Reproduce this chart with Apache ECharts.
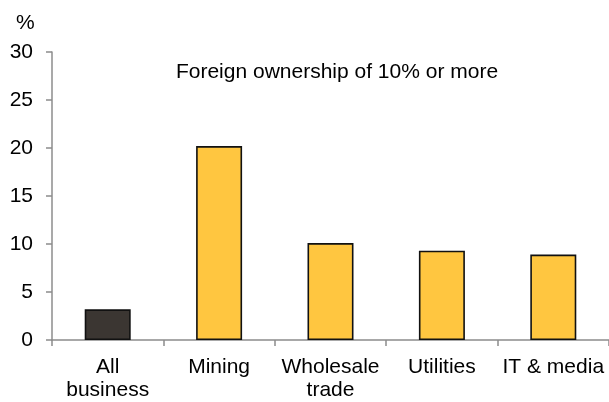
<!DOCTYPE html>
<html>
<head>
<meta charset="utf-8">
<script src="https://cdn.jsdelivr.net/npm/echarts@6/dist/echarts.min.js"></script>
<style>
  html, body { margin: 0; padding: 0; background: #fff; }
  #chart { width: 609px; height: 402px; }
</style>
</head>
<body>
<div id="chart"></div>
<script>
// Share of businesses with foreign ownership of 10% or more, by industry
const categories = ['All\nbusiness', 'Mining', 'Wholesale\ntrade', 'Utilities', 'IT & media'];
const shares = [3.2, 20.2, 10.1, 9.3, 8.9];
const barColors = ['#3b3632', '#ffc640', '#ffc640', '#ffc640', '#ffc640'];
const yTicks = [0, 5, 10, 15, 20, 25, 30];

const font = 'Liberation Sans, Arial, sans-serif';
const chart = echarts.init(document.getElementById('chart'), null, { renderer: 'canvas' });

chart.setOption({
  animation: false,
  backgroundColor: '#ffffff',
  grid: { left: 52, right: -3, top: 52, bottom: 57, containLabel: false },
  title: {
    text: 'Foreign ownership of 10% or more',
    left: 332, top: 57, textAlign: 'center',
    textStyle: { fontFamily: font, fontSize: 21, fontWeight: 'normal', color: '#000' }
  },
  graphic: [{
    type: 'text', left: 16, top: 13,
    style: { text: '%', font: '21px ' + font, fill: '#000' }
  }],
  xAxis: {
    type: 'category',
    data: categories,
    axisLine: { lineStyle: { color: '#8c8c8c', width: 1.5 } },
    axisTick: { show: true, alignWithLabel: false, length: 6, lineStyle: { color: '#8c8c8c', width: 1.5 } },
    axisLabel: { color: '#000', fontFamily: font, fontSize: 21, lineHeight: 23, margin: 16, interval: 0 }
  },
  yAxis: {
    type: 'value',
    min: yTicks[0], max: yTicks[yTicks.length - 1], interval: 5,
    splitLine: { show: false },
    axisLine: { show: true, lineStyle: { color: '#8c8c8c', width: 1.5 } },
    axisTick: { show: true, length: 6, lineStyle: { color: '#8c8c8c', width: 1.5 } },
    axisLabel: { color: '#000', fontFamily: font, fontSize: 21, margin: 19 }
  },
  series: [{
    type: 'bar',
    barWidth: 46,
    data: shares.map((v, i) => ({
      value: v,
      itemStyle: { color: barColors[i], borderColor: '#111', borderWidth: 1.6 }
    }))
  }]
});
</script>
</body>
</html>
